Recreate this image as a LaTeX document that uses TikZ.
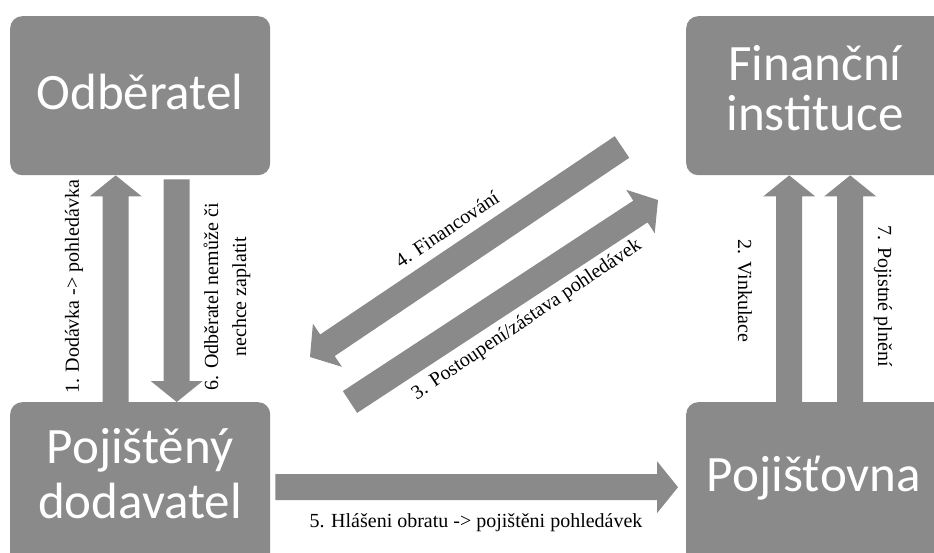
\documentclass[tikz,border=0pt]{standalone}
\usepackage{fontspec}
\setmainfont{Liberation Serif}
\newfontfamily\boxfont{Carlito}
\usetikzlibrary{calc}
\definecolor{blockgray}{RGB}{138,138,138}
\tikzset{
  block/.style={fill=blockgray, rounded corners=12pt, minimum width=260pt,
    minimum height=159pt, inner sep=0pt, anchor=north west},
  blocktext/.style={text=white, font=\boxfont\fontsize{51}{50}\selectfont,
    align=center, inner sep=0pt},
  flowlabel/.style={font=\fontsize{20}{28}\selectfont, align=center, inner sep=0pt},
}
% broad block arrow from tail #1 to tip #2
\newcommand\fatarrow[2]{%
  \fill[blockgray] let \p1=($(#2)-(#1)$), \n1={atan2(\y1,\x1)} in
    ($(#1)+(\n1+90:13pt)$) --
    ($(#2)+(\n1+180:21pt)+(\n1+90:13pt)$) --
    ($(#2)+(\n1+180:21pt)+(\n1+90:26pt)$) --
    (#2) --
    ($(#2)+(\n1+180:21pt)+(\n1-90:26pt)$) --
    ($(#2)+(\n1+180:21pt)+(\n1-90:13pt)$) --
    ($(#1)+(\n1-90:13pt)$) -- cycle;}
\begin{document}
\begin{tikzpicture}[x=1pt,y=-1pt]
\useasboundingbox (0,0) rectangle (934,553);
\clip (0,0) rectangle (934,553);

% blocks
\node[block] (od) at (10,16) {};
\node[block] (fi) at (686,16) {};
\node[block, minimum height=170pt] (pd) at (10,402) {};
\node[block, minimum height=170pt] (pj) at (686,402) {};

\node[blocktext] (odt) at (140,92) {Odběratel};
\node[blocktext] (fit) at (815,88) {Finanční\\instituce};
\node[blocktext, font=\boxfont\fontsize{51}{55}\selectfont] (pdt) at (140,473.5) {Pojištěný\\dodavatel};
\node[blocktext] (pjt) at (814,478) {Pojišťovna};

% free ends of the diagonal arrows
\coordinate (finA) at (622,147);
\coordinate (finB) at (310,357);
\coordinate (asgA) at (350,402);
\coordinate (asgB) at (658,200);

% arrows
\fatarrow{[xshift=-24.5pt]pd.north}{[xshift=-24.5pt]od.south}
\fatarrow{[xshift=36.5pt,yshift=-4pt]od.south}{[xshift=36.5pt]pd.north}
\fatarrow{[xshift=-27pt]pj.north}{[xshift=-27pt]fi.south}
\fatarrow{[xshift=34pt]pj.north}{[xshift=34pt]fi.south}
\fatarrow{[xshift=5pt]pd.east}{[xshift=-8pt]pj.west}
\fatarrow{finA}{finB}
\fatarrow{asgA}{asgB}

% labels
\node[flowlabel, rotate=90] (l1) at (74,287) {1. Dodávka -> pohledávka};
\node[flowlabel, rotate=90] (l6) at (227,297) {6. Odběratel nemůže či\\nechce zaplatit};
\node[flowlabel, rotate=-90] (l2) at (745,291) {2. Vinkulace};
\node[flowlabel, rotate=-90] (l7) at (883,296) {7. Pojistné plnění};
\node[flowlabel] (l5) at (476,523) {5. Hlášeni obratu -> pojištěni pohledávek};
\node[flowlabel, rotate=34] (l4) at (447,229) {4. Financování};
\node[flowlabel, rotate=34] (l3) at (527,320) {3. Postoupení/zástava pohledávek};
\end{tikzpicture}
\end{document}
